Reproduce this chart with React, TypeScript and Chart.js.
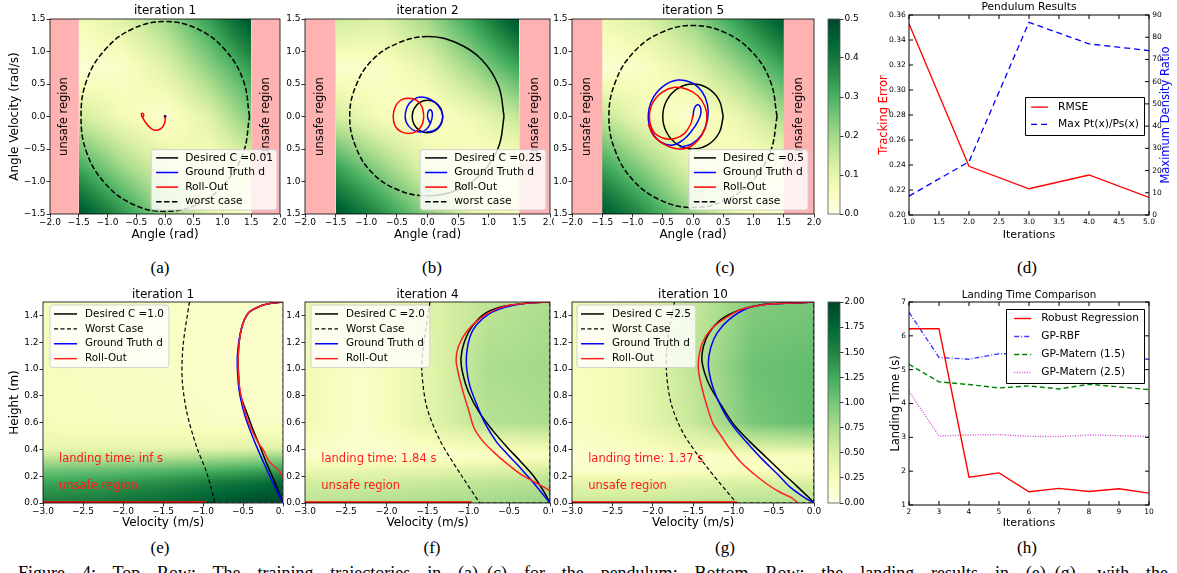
import React, { useEffect, useRef } from 'react';
import { Chart, registerables } from 'chart.js';

Chart.register(...registerables);
const FONT = 'DejaVu Sans';
Chart.defaults.font.family = FONT;
Chart.defaults.color = '#000';

// ---------------- tick labels ----------------
const ANGLE_TICKS = [-2, -1.5, -1, -0.5, 0, 0.5, 1, 1.5, 2];
const ANGVEL_TICKS = [-1.5, -1, -0.5, 0, 0.5, 1, 1.5];
const VEL_TICKS = [-3, -2.5, -2, -1.5, -1, -0.5, 0];
const HEIGHT_TICKS = [0, 0.2, 0.4, 0.6, 0.8, 1, 1.2, 1.4];
const CBAR_TOP_TICKS = [0, 0.1, 0.2, 0.3, 0.4, 0.5];
const CBAR_BOT_TICKS = [0, 0.25, 0.5, 0.75, 1, 1.25, 1.5, 1.75, 2];
const ITER_D_TICKS = [1, 1.5, 2, 2.5, 3, 3.5, 4, 4.5, 5];
const TRACK_TICKS = [0.2, 0.22, 0.24, 0.26, 0.28, 0.3, 0.32, 0.34, 0.36];
const RATIO_TICKS = [0, 10, 20, 30, 40, 50, 60, 70, 80, 90];
const ITER_H_TICKS = [2, 3, 4, 5, 6, 7, 8, 9, 10];
const LAND_TICKS = [1, 2, 3, 4, 5, 6, 7];

// ---------------- (d) Pendulum results ----------------
const ITER_D = [1, 2, 3, 4, 5];
const RMSE = [0.353, 0.239, 0.221, 0.232, 0.214];
const DENSITY_RATIO = [8.5, 24, 86.7, 77, 74];

// ---------------- (h) Landing time comparison ----------------
const ITER_H = [2, 3, 4, 5, 6, 7, 8, 9, 10];
const ROBUST = [6.21, 6.21, 1.82, 1.95, 1.39, 1.49, 1.4, 1.48, 1.35];
const GP_RBF = [6.7, 5.36, 5.31, 5.47, 5.46, 5.42, 5.38, 5.35, 5.31];
const GP_M15 = [5.16, 4.64, 4.56, 4.46, 4.52, 4.43, 4.57, 4.49, 4.41];
const GP_M25 = [4.36, 3.04, 3.07, 3.08, 3.03, 3.02, 3.07, 3.05, 3.02];

// ---------------- top row trajectories (angle, angle velocity) ----------------
const WORST_A = [[1.47, 0], [1.36, 0.56], [1.04, 1.03], [0.56, 1.35], [0, 1.46], [-0.56, 1.35], [-1.04, 1.03], [-1.36, 0.56], [-1.46, 0], [-1.36, -0.56], [-1.04, -1.03], [-0.56, -1.35], [0, -1.46], [0.56, -1.35], [1.04, -1.03], [1.36, -0.56], [1.47, 0]];
const WORST_B = [[1.25, 0], [1.16, 0.47], [0.89, 0.87], [0.48, 1.13], [0, 1.23], [-0.48, 1.13], [-0.9, 0.87], [-1.17, 0.47], [-1.27, 0], [-1.17, -0.47], [-0.9, -0.87], [-0.48, -1.13], [0, -1.22], [0.48, -1.13], [0.89, -0.87], [1.16, -0.47], [1.25, 0]];
const WORST_C = [[1.39, 0], [1.28, 0.54], [0.98, 0.99], [0.53, 1.29], [0, 1.4], [-0.53, 1.29], [-0.98, 0.99], [-1.28, 0.54], [-1.39, 0], [-1.28, -0.54], [-0.98, -0.99], [-0.53, -1.29], [0, -1.4], [0.53, -1.29], [0.98, -0.99], [1.28, -0.54], [1.39, 0]];
const DESIRED_A = [[0.01, 0], [0, 0.01], [-0.01, 0], [0, -0.01], [0.01, 0]];
const DESIRED_B = [[0.25, 0], [0.217, 0.125], [0.125, 0.217], [0, 0.25], [-0.125, 0.217], [-0.217, 0.125], [-0.25, 0], [-0.217, -0.125], [-0.125, -0.217], [0, -0.25], [0.125, -0.217], [0.217, -0.125], [0.25, 0]];
const DESIRED_C = [[0.5, 0], [0.433, 0.25], [0.25, 0.433], [0, 0.5], [-0.25, 0.433], [-0.433, 0.25], [-0.5, 0], [-0.433, -0.25], [-0.25, -0.433], [0, -0.5], [0.25, -0.433], [0.433, -0.25], [0.5, 0]];
const TRUTH_A = [[0, 0], [0.01, 0.01], [0.01, -0.01], [0, 0]];
const TRUTH_B = [[0.04, -0.1], [0, 0], [0.02, 0.09], [0.06, 0.1], [0.08, 0.02], [0.05, -0.1], [-0.02, -0.2], [-0.12, -0.24], [-0.25, -0.2], [-0.35, -0.08], [-0.36, 0.06], [-0.3, 0.2], [-0.17, 0.29], [-0.02, 0.29], [0.12, 0.22], [0.22, 0.1], [0.25, -0.02], [0.2, -0.14], [0.1, -0.22], [-0.02, -0.24]];
const TRUTH_C = [[0, 0], [0.02, 0.12], [0.07, 0.18], [0.12, 0.15], [0.13, 0.05], [0.08, -0.08], [-0.02, -0.22], [-0.15, -0.35], [-0.33, -0.44], [-0.52, -0.4], [-0.67, -0.25], [-0.74, -0.02], [-0.68, 0.25], [-0.5, 0.46], [-0.25, 0.56], [-0.02, 0.52], [0.15, 0.38], [0.24, 0.18], [0.24, -0.05], [0.15, -0.27], [-0.02, -0.42], [-0.22, -0.47]];
const ROLL_A = [[0, 0], [0, -0.08], [-0.04, -0.16], [-0.1, -0.2], [-0.18, -0.21], [-0.26, -0.17], [-0.33, -0.1], [-0.38, -0.03], [-0.41, 0.02], [-0.4, 0.05], [-0.37, 0.03], [-0.38, -0.01]];
const ROLL_B = [[-0.06, 0], [-0.09, 0.15], [-0.18, 0.25], [-0.31, 0.28], [-0.44, 0.25], [-0.53, 0.14], [-0.56, 0], [-0.53, -0.14], [-0.44, -0.23], [-0.31, -0.26], [-0.18, -0.23], [-0.09, -0.13], [-0.06, 0]];
const ROLL_C = [[0, 0.02], [-0.04, -0.12], [-0.14, -0.26], [-0.3, -0.34], [-0.5, -0.33], [-0.66, -0.22], [-0.72, 0], [-0.66, 0.22], [-0.5, 0.38], [-0.3, 0.45], [-0.1, 0.42], [0.08, 0.32], [0.2, 0.15], [0.23, -0.05], [0.15, -0.28], [-0.02, -0.45], [-0.22, -0.5], [-0.45, -0.44], [-0.65, -0.3], [-0.74, -0.12]];
const UNSAFE_BANDS = [[-2, -1.5], [1.5, 2]];
const UNSAFE_LABEL_X = [-1.75, 1.75];

// top heat maps (rows top->bottom)
const HEAT_TOP_X = [-1.5, -0.75, 0, 0.75, 1.5];
const HEAT_TOP_Y = [1.5, 0.75, 0, -0.75, -1.5];
const HEAT_A = [
  [0.07, 0.11, 0.2, 0.33, 0.48],
  [0.02, 0.04, 0.11, 0.22, 0.34],
  [0.14, 0.07, 0.03, 0.11, 0.24],
  [0.31, 0.2, 0.11, 0.05, 0.11],
  [0.48, 0.35, 0.22, 0.11, 0.03],
];
const HEAT_B = [
  [0.14, 0.12, 0.2, 0.33, 0.48],
  [0.03, 0.04, 0.1, 0.21, 0.32],
  [0.13, 0.06, 0.03, 0.08, 0.16],
  [0.32, 0.21, 0.1, 0.04, 0.04],
  [0.48, 0.36, 0.23, 0.1, 0.05],
];
const HEAT_C = [
  [0.08, 0.12, 0.21, 0.34, 0.47],
  [0.02, 0.05, 0.11, 0.21, 0.32],
  [0.16, 0.07, 0.03, 0.09, 0.19],
  [0.32, 0.21, 0.1, 0.04, 0.06],
  [0.47, 0.35, 0.21, 0.08, 0.03],
];

// ---------------- bottom row trajectories (velocity, height) ----------------
const DESIRED_E = [[-0.02, 1.5], [-0.15, 1.49], [-0.28, 1.47], [-0.43, 1.42], [-0.52, 1.3], [-0.56, 1.1], [-0.55, 0.9], [-0.53, 0.8], [-0.45, 0.67], [-0.37, 0.54], [-0.28, 0.41], [-0.2, 0.29], [-0.1, 0.15], [0, 0]];
const TRUTH_E = [[-0.02, 1.5], [-0.15, 1.49], [-0.28, 1.47], [-0.43, 1.42], [-0.52, 1.3], [-0.57, 1.1], [-0.56, 0.9], [-0.53, 0.78], [-0.47, 0.64], [-0.39, 0.51], [-0.3, 0.38], [-0.21, 0.26], [-0.11, 0.13], [0, 0]];
const ROLL_E = [[-0.02, 1.5], [-0.15, 1.49], [-0.28, 1.47], [-0.43, 1.42], [-0.52, 1.3], [-0.56, 1.1], [-0.55, 0.9], [-0.51, 0.76], [-0.45, 0.63], [-0.37, 0.52], [-0.3, 0.44], [-0.25, 0.4], [-0.2, 0.34], [-0.16, 0.3], [-0.1, 0.27], [-0.05, 0.24], [0, 0.19]];
const WORST_E = [[-1.17, 1.5], [-1.25, 1.17], [-1.26, 0.92], [-1.2, 0.67], [-1.08, 0.42], [-0.95, 0.22], [-0.85, 0]];
const EDGE_E = [[-0.85, 0], [0, 0], [0, 1.5]];
const BASE_E = [[-3, 0], [-0.97, 0]];

const DESIRED_F = [[0, 1.5], [-0.3, 1.49], [-0.55, 1.47], [-0.78, 1.42], [-0.95, 1.32], [-1.05, 1.2], [-1.09, 1.08], [-1.07, 0.97], [-1.0, 0.83], [-0.86, 0.67], [-0.7, 0.54], [-0.53, 0.42], [-0.36, 0.31], [-0.2, 0.2], [-0.08, 0.09], [0, 0]];
const TRUTH_F = [[0, 1.5], [-0.3, 1.49], [-0.55, 1.46], [-0.75, 1.41], [-0.9, 1.33], [-0.98, 1.24], [-1.02, 1.12], [-1.02, 1.0], [-0.98, 0.87], [-0.9, 0.74], [-0.8, 0.6], [-0.66, 0.46], [-0.53, 0.37], [-0.36, 0.26], [-0.2, 0.15], [-0.08, 0.06], [0, 0]];
const ROLL_F = [[0, 1.5], [-0.3, 1.49], [-0.6, 1.46], [-0.85, 1.38], [-1.02, 1.28], [-1.12, 1.17], [-1.15, 1.07], [-1.12, 0.96], [-1.06, 0.82], [-0.99, 0.68], [-0.93, 0.56], [-0.82, 0.46], [-0.69, 0.38], [-0.52, 0.29], [-0.37, 0.22], [-0.2, 0.16], [-0.08, 0.12], [0, 0.09]];
const WORST_F = [[-1.47, 1.5], [-1.55, 1.17], [-1.57, 0.99], [-1.51, 0.72], [-1.35, 0.47], [-1.1, 0.22], [-0.86, 0]];
const EDGE_F = [[-0.86, 0], [0, 0], [0, 1.5]];
const BASE_F = [[-3, 0], [-0.96, 0]];

const DESIRED_G = [[0, 1.5], [-0.35, 1.49], [-0.65, 1.48], [-0.92, 1.44], [-1.15, 1.37], [-1.3, 1.27], [-1.37, 1.17], [-1.39, 1.07], [-1.35, 0.96], [-1.28, 0.86], [-1.15, 0.73], [-1.0, 0.59], [-0.8, 0.46], [-0.59, 0.34], [-0.4, 0.23], [-0.22, 0.13], [-0.08, 0.05], [0, 0]];
const TRUTH_G = [[0, 1.5], [-0.35, 1.49], [-0.62, 1.48], [-0.84, 1.45], [-1.05, 1.37], [-1.2, 1.27], [-1.28, 1.16], [-1.31, 1.04], [-1.28, 0.92], [-1.22, 0.81], [-1.1, 0.66], [-0.96, 0.54], [-0.8, 0.43], [-0.63, 0.32], [-0.46, 0.22], [-0.3, 0.12], [-0.14, 0.05], [0, 0]];
const ROLL_G = [[0, 1.5], [-0.35, 1.49], [-0.62, 1.48], [-0.88, 1.45], [-1.1, 1.38], [-1.27, 1.3], [-1.38, 1.2], [-1.43, 1.08], [-1.43, 0.98], [-1.39, 0.86], [-1.33, 0.73], [-1.25, 0.59], [-1.15, 0.5], [-1.05, 0.41], [-0.9, 0.3], [-0.75, 0.22], [-0.58, 0.14], [-0.42, 0.08], [-0.28, 0.04], [-0.2, 0]];
const WORST_G = [[-1.73, 1.5], [-1.81, 1.24], [-1.83, 0.99], [-1.77, 0.74], [-1.62, 0.52], [-1.33, 0.27], [-0.96, 0]];
const EDGE_G = [[-0.96, 0], [0, 0], [0, 1.5]];
const BASE_G = [[-3, 0], [-0.96, 0]];

// bottom heat maps (rows top->bottom)
const HEAT_BOT_X = [-3, -2.3, -1.5, -0.75, 0];
const HEAT_BOT_Y = [1.5, 1.0, 0.6, 0.42, 0.35, 0.25, 0.15, 0];
const HEAT_E = [
  [0.22, 0.2, 0.18, 0.16, 0.15],
  [0.22, 0.2, 0.18, 0.16, 0.15],
  [0.24, 0.22, 0.2, 0.18, 0.17],
  [0.35, 0.35, 0.36, 0.38, 0.4],
  [0.6, 0.62, 0.66, 0.72, 0.8],
  [1.0, 1.05, 1.12, 1.2, 1.3],
  [1.3, 1.35, 1.45, 1.6, 1.75],
  [1.55, 1.6, 1.75, 1.9, 2.0],
];
const HEAT_F = [
  [0.35, 0.25, 0.45, 0.65, 0.75],
  [0.3, 0.15, 0.4, 0.75, 0.8],
  [0.3, 0.15, 0.4, 0.7, 0.75],
  [0.2, 0.12, 0.2, 0.3, 0.35],
  [0.15, 0.1, 0.12, 0.15, 0.18],
  [0.35, 0.35, 0.4, 0.45, 0.5],
  [0.55, 0.55, 0.6, 0.65, 0.7],
  [0.65, 0.7, 0.75, 0.8, 0.85],
];
const HEAT_G = [
  [0.3, 0.35, 0.6, 0.95, 1.0],
  [0.2, 0.3, 0.65, 1.05, 1.1],
  [0.2, 0.3, 0.6, 1.0, 1.1],
  [0.15, 0.2, 0.35, 0.5, 0.55],
  [0.1, 0.12, 0.15, 0.2, 0.22],
  [0.15, 0.15, 0.18, 0.2, 0.22],
  [0.4, 0.4, 0.45, 0.5, 0.5],
  [0.6, 0.6, 0.65, 0.7, 0.7],
];

// ---------------- helpers ----------------
const YLGN = [[255, 255, 229], [247, 252, 185], [217, 240, 163], [173, 221, 142], [120, 198, 121], [65, 171, 93], [35, 132, 67], [0, 104, 55], [0, 69, 41]];
function cmap(t: number) {
  const n = YLGN.length;
  const c = Math.max(0, Math.min(1, t)) * (n - 1);
  const i = Math.min(n - 2, Math.floor(c));
  const u = c - i;
  const a = YLGN[i], b = YLGN[i + 1];
  return [a[0] + (b[0] - a[0]) * u, a[1] + (b[1] - a[1]) * u, a[2] + (b[2] - a[2]) * u];
}
function seg(arr: number[], v: number): [number, number] {
  const n = arr.length;
  for (let k = 0; k < n - 1; k++) {
    const a = arr[k], b = arr[k + 1];
    if (v >= Math.min(a, b) && v <= Math.max(a, b)) return [k, (v - a) / (b - a)];
  }
  const asc = arr[n - 1] > arr[0];
  const before = asc ? v < arr[0] : v > arr[0];
  return before ? [0, 0] : [n - 2, 1];
}
function interp(h: any, x: number, y: number) {
  const [i, u] = seg(h.gx, x);
  const [j, w] = seg(h.gy, y);
  const z = h.z;
  const top = z[j][i] * (1 - u) + z[j][i + 1] * u;
  const bot = z[j + 1][i] * (1 - u) + z[j + 1][i + 1] * u;
  return top * (1 - w) + bot * w;
}
function drawHeat(ctx: any, xs: any, ys: any, h: any) {
  const x0 = Math.round(xs.getPixelForValue(Math.min(...h.gx)));
  const x1 = Math.round(xs.getPixelForValue(Math.max(...h.gx)));
  const y0 = Math.round(ys.getPixelForValue(Math.max(...h.gy)));
  const y1 = Math.round(ys.getPixelForValue(Math.min(...h.gy)));
  const w = x1 - x0, hh = y1 - y0;
  if (w <= 0 || hh <= 0) return;
  const off = document.createElement('canvas');
  off.width = w; off.height = hh;
  const octx = off.getContext('2d')!;
  const img = octx.createImageData(w, hh);
  for (let j = 0; j < hh; j++) {
    const vy = ys.getValueForPixel(y0 + j + 0.5);
    for (let i = 0; i < w; i++) {
      const vx = xs.getValueForPixel(x0 + i + 0.5);
      const c = cmap((interp(h, vx, vy) - h.vmin) / (h.vmax - h.vmin));
      const k = (j * w + i) * 4;
      img.data[k] = c[0]; img.data[k + 1] = c[1]; img.data[k + 2] = c[2]; img.data[k + 3] = 255;
    }
  }
  octx.putImageData(img, 0, 0);
  ctx.drawImage(off, x0, y0);
}
function drawCbar(ctx: any, ca: any, ys: any, c: any) {
  for (let py = Math.floor(ca.top); py < ca.bottom; py++) {
    const v = ys.getValueForPixel(py + 0.5);
    const col = cmap((v - c.vmin) / (c.vmax - c.vmin));
    ctx.fillStyle = `rgb(${col[0]},${col[1]},${col[2]})`;
    ctx.fillRect(ca.left, py, ca.right - ca.left, 1);
  }
}
function drawText(ctx: any, scales: any, t: any) {
  const x = t.px ? t.x : scales.x.getPixelForValue(t.x);
  const y = t.px ? t.y : scales.y.getPixelForValue(t.y);
  ctx.save();
  ctx.translate(x, y);
  if (t.rot) ctx.rotate((t.rot * Math.PI) / 180);
  ctx.font = `${t.size}px ${FONT}`;
  ctx.fillStyle = t.color || '#000';
  ctx.textAlign = t.align || 'center';
  ctx.textBaseline = 'middle';
  ctx.fillText(t.text, 0, 0);
  ctx.restore();
}
function drawLegend(ctx: any, chart: any, L: any) {
  const ca = chart.chartArea;
  const items = chart.data.datasets.filter((d: any) => d.label && d.label[0] !== '_');
  ctx.font = `${L.size}px ${FONT}`;
  const tw = Math.max(...items.map((d: any) => ctx.measureText(d.label).width));
  const w = L.padL + L.sample + L.gap + tw + L.padR;
  const h = items.length * L.row + L.padT + L.padB;
  const x = L.ax === 'left' ? ca.left + L.dx : ca.right - L.dx - w;
  const y = L.ay === 'top' ? ca.top + L.dy : ca.bottom - L.dy - h;
  ctx.beginPath();
  if (L.classic) ctx.rect(Math.round(x) + 0.5, Math.round(y) + 0.5, Math.round(w), Math.round(h));
  else ctx.roundRect(x, y, w, h, 3);
  ctx.fillStyle = L.classic ? '#fff' : 'rgba(255,255,255,0.8)';
  ctx.fill();
  ctx.lineWidth = 1;
  ctx.strokeStyle = L.classic ? '#000' : 'rgba(204,204,204,0.9)';
  ctx.stroke();
  items.forEach((d: any, k: number) => {
    const cy = y + L.padT + L.row * (k + 0.5);
    ctx.beginPath();
    ctx.setLineDash(d.borderDash || []);
    ctx.strokeStyle = d.borderColor;
    ctx.lineWidth = d.borderWidth;
    ctx.moveTo(x + L.padL, cy);
    ctx.lineTo(x + L.padL + L.sample, cy);
    ctx.stroke();
    ctx.setLineDash([]);
    ctx.fillStyle = '#000';
    ctx.textBaseline = 'middle';
    ctx.textAlign = 'left';
    ctx.fillText(d.label, x + L.padL + L.sample + L.gap, cy);
  });
}
function drawInnerTicks(ctx: any, chart: any) {
  const ca = chart.chartArea;
  const { x, y, y2 } = chart.scales;
  ctx.strokeStyle = '#000';
  ctx.lineWidth = 1;
  const line = (a: number, b: number, c: number, d: number) => { ctx.beginPath(); ctx.moveTo(a, b); ctx.lineTo(c, d); ctx.stroke(); };
  x.ticks.forEach((t: any) => { const p = x.getPixelForValue(t.value); line(p, ca.bottom, p, ca.bottom - 4); line(p, ca.top, p, ca.top + 4); });
  y.ticks.forEach((t: any) => { const p = y.getPixelForValue(t.value); line(ca.left, p, ca.left + 4, p); if (!y2) line(ca.right, p, ca.right - 4, p); });
  if (y2) y2.ticks.forEach((t: any) => { const p = y2.getPixelForValue(t.value); line(ca.right, p, ca.right - 4, p); });
}
function makeDeco(o: any) {
  return {
    id: 'deco',
    beforeDatasetsDraw(chart: any) {
      const { ctx, chartArea: ca, scales } = chart;
      ctx.save();
      if (o.heat) drawHeat(ctx, scales.x, scales.y, o.heat);
      if (o.cbar) drawCbar(ctx, ca, scales.y, o.cbar);
      (o.bands || []).forEach((b: number[]) => {
        const x0 = scales.x.getPixelForValue(b[0]);
        const x1 = scales.x.getPixelForValue(b[1]);
        ctx.fillStyle = 'rgb(255,178,178)';
        ctx.fillRect(x0, ca.top, x1 - x0, ca.bottom - ca.top);
      });
      (o.texts || []).forEach((t: any) => drawText(ctx, scales, t));
      ctx.restore();
    },
    afterDatasetsDraw(chart: any) {
      const { ctx, chartArea: ca, scales } = chart;
      ctx.save();
      if (o.innerTicks) drawInnerTicks(ctx, chart);
      ctx.strokeStyle = o.frameColor || '#000';
      ctx.lineWidth = o.frameWidth || 0.8;
      ctx.strokeRect(ca.left, ca.top, ca.right - ca.left, ca.bottom - ca.top);
      if (o.legend) drawLegend(ctx, chart, o.legend);
      if (o.title) {
        ctx.font = `${o.title.size}px ${FONT}`;
        ctx.fillStyle = '#000';
        ctx.textAlign = 'center';
        ctx.textBaseline = 'middle';
        ctx.fillText(o.title.text, (ca.left + ca.right) / 2, ca.top - o.title.dy);
      }
      (o.pxTexts || []).forEach((t: any) => drawText(ctx, scales, { ...t, px: true }));
      ctx.restore();
    },
  };
}

const fmt = (d: number) => (v: number) => (v < 0 ? '\u2212' : '') + Math.abs(v).toFixed(d);

function axis(a: any, position: string, fit: (s: any) => void) {
  return {
    type: 'linear',
    position,
    min: a.min,
    max: a.max,
    afterBuildTicks: (s: any) => { s.ticks = a.ticks.map((v: number) => ({ value: v })); },
    afterFit: fit,
    ticks: {
      callback: (v: any) => a.fmt(Number(v)),
      font: { family: FONT, size: a.tickSize, lineHeight: 1 },
      color: '#000',
      padding: a.tickPad,
      maxRotation: 0,
      minRotation: 0,
      autoSkip: false,
    },
    grid: a.outside
      ? { display: true, drawOnChartArea: false, drawTicks: true, tickLength: 3.5, lineWidth: 0.8, color: '#000' }
      : { display: false, drawTicks: false },
    border: { display: false },
    title: a.title
      ? {
          display: true,
          text: a.title,
          color: a.titleColor || '#000',
          font: { family: FONT, size: a.titleSize },
          padding: position === 'bottom' ? { top: 0, bottom: a.titlePad } : { top: a.titlePad, bottom: 0 },
        }
      : { display: false },
  };
}

function makeConfig(cv: number[], area: number[], xa: any, ya: any, datasets: any[], deco: any, y2?: any) {
  const [cl, ct, cw, ch] = cv;
  const [L, T, R, B] = area;
  const scales: any = {
    x: axis(xa, 'bottom', (s: any) => { s.height = ct + ch - B; }),
    y: axis(ya, 'left', (s: any) => { s.width = L - cl; }),
  };
  if (y2) scales.y2 = axis(y2, 'right', (s: any) => { s.width = cl + cw - R; });
  return {
    type: 'line',
    data: { datasets },
    options: {
      animation: false,
      responsive: false,
      events: [],
      layout: { padding: { left: 0, top: T - ct, right: y2 ? 0 : cl + cw - R, bottom: 0 } },
      plugins: { legend: { display: false }, tooltip: { enabled: false }, title: { display: false } },
      elements: { point: { radius: 0 } },
      scales,
    },
    plugins: [makeDeco(deco)],
  };
}

function cbarConfig(cv: number[], area: number[], ticks: number[], f: any, vmin: number, vmax: number) {
  const [cl, ct, cw, ch] = cv;
  const [L, T, R, B] = area;
  return {
    type: 'line',
    data: { datasets: [] },
    options: {
      animation: false,
      responsive: false,
      events: [],
      layout: { padding: { left: L - cl, top: T - ct, right: 0, bottom: ct + ch - B } },
      plugins: { legend: { display: false }, tooltip: { enabled: false } },
      scales: {
        x: { type: 'linear', display: false, min: 0, max: 1 },
        y: axis({ min: vmin, max: vmax, ticks, fmt: f, tickSize: 9, tickPad: 1, outside: true }, 'right', (s: any) => { s.width = cl + cw - R; }),
      },
    },
    plugins: [makeDeco({ cbar: { vmin, vmax }, frameColor: '#555', frameWidth: 0.8 })],
  };
}

const P = (arr: number[][]) => arr.map(([x, y]) => ({ x, y }));
const DASH = [5.5, 2.4];

function lineDs(label: string, data: number[][], color: string, order: number, extra: any = {}) {
  return { label, data: P(data), borderColor: color, borderWidth: 1.5, tension: 0.4, pointRadius: 0, fill: false, order, ...extra };
}

// ---------------- axis specs ----------------
const TOP_X = { min: -2, max: 2, ticks: ANGLE_TICKS, fmt: fmt(1), title: 'Angle (rad)', titleSize: 12, titlePad: 3.3, tickSize: 9, tickPad: 1, outside: true };
const TOP_Y = (withTitle: boolean) => ({ min: -1.5, max: 1.5, ticks: ANGVEL_TICKS, fmt: fmt(1), title: withTitle ? 'Angle Velocity (rad/s)' : undefined, titleSize: 12, titlePad: 7.8, tickSize: 9, tickPad: 1, outside: true });
const BOT_X = { min: -3, max: 0, ticks: VEL_TICKS, fmt: fmt(1), title: 'Velocity (m/s)', titleSize: 12, titlePad: 4.5, tickSize: 9, tickPad: 1, outside: true };
const BOT_Y = (withTitle: boolean) => ({ min: 0, max: 1.5, ticks: HEIGHT_TICKS, fmt: fmt(1), title: withTitle ? 'Height (m)' : undefined, titleSize: 12, titlePad: 7.8, tickSize: 9, tickPad: 1, outside: true });

function topPanel(cv: number[], area: number[], iter: string, c: string, desired: number[][], truth: number[][], roll: number[][], worst: number[][], heat: number[][], solidRight: boolean, legendDx: number, withYTitle: boolean) {
  const datasets = [
    lineDs(`Desired C =${c}`, desired, '#000000', 2),
    lineDs('Ground Truth d', truth, '#0000ff', 1),
    lineDs('Roll-Out', roll, '#ff0000', 0),
    lineDs('worst case', worst, '#000000', 3, {
      borderDash: DASH,
      segment: solidRight ? { borderDash: (s: any) => ((s.p0.parsed.x + s.p1.parsed.x) / 2 < 0 ? DASH : []) } : undefined,
    }),
  ];
  const deco = {
    heat: { gx: HEAT_TOP_X, gy: HEAT_TOP_Y, z: heat, vmin: 0, vmax: 0.5 },
    bands: UNSAFE_BANDS,
    texts: UNSAFE_LABEL_X.map((x) => ({ text: 'unsafe region', x, y: 0, size: 11.5, rot: -90 })),
    title: { text: `iteration ${iter}`, dy: 8.5, size: 12 },
    legend: { ax: 'right', dx: legendDx, ay: 'bottom', dy: 4, size: 10.7, row: 14.6, sample: 22, gap: 7, padL: 5, padR: 4, padT: 1, padB: 1 },
  };
  return makeConfig(cv, area, TOP_X, TOP_Y(withYTitle), datasets, deco);
}

function botPanel(cv: number[], area: number[], iter: string, c: string, desired: number[][], worst: number[][], truth: number[][], roll: number[][], edge: number[][], base: number[][], heat: number[][], landing: string, legendDx: number, withYTitle: boolean, edgeColor: string) {
  const datasets = [
    lineDs(`Desired C =${c}`, desired, '#000000', 2, { tension: 0.3 }),
    lineDs('Worst Case', worst, '#000000', 3, { borderDash: [4, 2.5], borderWidth: 1.2, tension: 0.3 }),
    lineDs('Ground Truth d', truth, '#0000ff', 1, { tension: 0.3 }),
    lineDs('Roll-Out', roll, '#ff2020', 0, { tension: 0.3 }),
    lineDs('_edge', edge, edgeColor, 4, { borderDash: [4, 2.5], borderWidth: 1.2, tension: 0 }),
    lineDs('_base', base, '#ff0000', 0, { borderWidth: 3.5, tension: 0 }),
  ];
  const deco = {
    heat: { gx: HEAT_BOT_X, gy: HEAT_BOT_Y, z: heat, vmin: 0, vmax: 2 },
    texts: [
      { text: landing, x: -2.8, y: 0.33, size: 11.5, color: '#ff1a1a', align: 'left' },
      { text: 'unsafe region', x: -2.8, y: 0.13, size: 11.5, color: '#ff1a1a', align: 'left' },
    ],
    title: { text: `iteration ${iter}`, dy: 7.5, size: 12 },
    legend: { ax: 'left', dx: legendDx, ay: 'top', dy: 3, size: 10.4, row: 14.9, sample: 23, gap: 8, padL: 4, padR: 5, padT: 1.5, padB: 1.5 },
  };
  return makeConfig(cv, area, BOT_X, BOT_Y(withYTitle), datasets, deco);
}

function pendulumPanel(cv: number[], area: number[]) {
  const datasets = [
    { label: 'RMSE', data: ITER_D.map((x, i) => ({ x, y: RMSE[i] })), borderColor: '#ff0000', borderWidth: 1.3, pointRadius: 0, tension: 0, yAxisID: 'y', order: 0 },
    { label: 'Max Pt(x)/Ps(x)', data: ITER_D.map((x, i) => ({ x, y: DENSITY_RATIO[i] })), borderColor: '#0000ff', borderWidth: 1.3, borderDash: [6, 4], pointRadius: 0, tension: 0, yAxisID: 'y2', order: 1 },
  ];
  const xa = { min: 1, max: 5, ticks: ITER_D_TICKS, fmt: fmt(1), title: 'Iterations', titleSize: 11, titlePad: 3.4, tickSize: 7.5, tickPad: 3.3, outside: false };
  const ya = { min: 0.2, max: 0.36, ticks: TRACK_TICKS, fmt: fmt(2), title: 'Tracking Error', titleColor: '#ff0000', titleSize: 11.5, titlePad: 11, tickSize: 7.5, tickPad: 3.3, outside: false };
  const y2 = { min: 0, max: 90, ticks: RATIO_TICKS, fmt: fmt(0), tickSize: 7.5, tickPad: 3.3, outside: false };
  const deco = {
    innerTicks: true,
    frameWidth: 1,
    title: { text: 'Pendulum Results', dy: 8, size: 10.7 },
    legend: { ax: 'right', dx: 5, ay: 'top', dy: 82, size: 10.7, row: 17.3, sample: 17, gap: 10, padL: 6, padR: 5, padT: 1.5, padB: 2, classic: true },
    pxTexts: [{ text: 'Maximum Density Ratio', x: 1166 - cv[0], y: (area[1] + area[3]) / 2 - cv[1], size: 11.5, rot: -90, color: '#0000ff' }],
  };
  return makeConfig(cv, area, xa, ya, datasets, deco, y2);
}

function landingPanel(cv: number[], area: number[]) {
  const mk = (label: string, vals: number[], color: string, dash: number[], order: number) => ({
    label, data: ITER_H.map((x, i) => ({ x, y: vals[i] })), borderColor: color, borderWidth: 1.4, borderDash: dash, pointRadius: 0, tension: 0, order,
  });
  const datasets = [
    mk('Robust Regression', ROBUST, '#ff0000', [], 0),
    mk('GP-RBF', GP_RBF, 'rgba(0,0,255,0.75)', [5, 2, 1, 2], 1),
    mk('GP-Matern (1.5)', GP_M15, '#008000', [5, 3], 2),
    mk('GP-Matern (2.5)', GP_M25, 'rgba(191,0,191,0.7)', [1, 1.5], 3),
  ];
  const xa = { min: 2, max: 10, ticks: ITER_H_TICKS, fmt: fmt(0), title: 'Iterations', titleSize: 11, titlePad: 5, tickSize: 7.5, tickPad: 3.3, outside: false };
  const ya = { min: 1, max: 7, ticks: LAND_TICKS, fmt: fmt(0), title: 'Landing Time (s)', titleSize: 11.5, titlePad: 23, tickSize: 7.5, tickPad: 3, outside: false };
  const deco = {
    innerTicks: true,
    frameWidth: 1,
    title: { text: 'Landing Time Comparison', dy: 6.5, size: 10.3 },
    legend: { ax: 'right', dx: 5, ay: 'top', dy: 7, size: 10.6, row: 18, sample: 17, gap: 10, padL: 8, padR: 5, padT: 0.5, padB: 1.5, classic: true },
  };
  return makeConfig(cv, area, xa, ya, datasets, deco);
}

// ---------------- layout ----------------
const PANELS = [
  { id: 'a', box: [0, 0, 286, 250], cv: [0, 0, 300, 245], make: () => topPanel([0, 0, 300, 245], [50, 19, 280, 214], '1', '0.01', DESIRED_A, TRUTH_A, ROLL_A, WORST_A, HEAT_A, false, 3, true) },
  { id: 'b', box: [286, 0, 268, 250], cv: [262, 0, 300, 245], make: () => topPanel([262, 0, 300, 245], [305, 19, 550, 214], '2', '0.25', DESIRED_B, TRUTH_B, ROLL_B, WORST_B, HEAT_B, true, 4, false) },
  { id: 'c', box: [554, 0, 270, 250], cv: [530, 0, 300, 245], make: () => topPanel([530, 0, 300, 245], [572, 19, 814, 214], '5', '0.5', DESIRED_C, TRUTH_C, ROLL_C, WORST_C, HEAT_C, false, 6, false) },
  { id: 'cb1', box: [823, 0, 47, 250], cv: [820, 0, 50, 245], make: () => cbarConfig([820, 0, 50, 245], [828, 19, 840, 214], CBAR_TOP_TICKS, fmt(1), 0, 0.5) },
  { id: 'd', box: [870, 0, 307, 250], cv: [866, 0, 311, 245], make: () => pendulumPanel([866, 0, 311, 245], [909, 15, 1149, 215]) },
  { id: 'e', box: [0, 280, 285, 255], cv: [0, 280, 300, 255], make: () => botPanel([0, 280, 300, 255], [43, 302, 283, 503], '1', '1.0', DESIRED_E, WORST_E, TRUTH_E, ROLL_E, EDGE_E, BASE_E, HEAT_E, 'landing time: inf s', 7, true, '#999') },
  { id: 'f', box: [285, 280, 268, 255], cv: [262, 280, 300, 255], make: () => botPanel([262, 280, 300, 255], [305, 302, 550, 503], '4', '2.0', DESIRED_F, WORST_F, TRUTH_F, ROLL_F, EDGE_F, BASE_F, HEAT_F, 'landing time: 1.84 s', 6, false, '#000') },
  { id: 'g', box: [553, 280, 270, 255], cv: [530, 280, 300, 255], make: () => botPanel([530, 280, 300, 255], [572, 302, 814, 503], '10', '2.5', DESIRED_G, WORST_G, TRUTH_G, ROLL_G, EDGE_G, BASE_G, HEAT_G, 'landing time: 1.37 s', 5, false, '#000') },
  { id: 'cb2', box: [823, 280, 47, 255], cv: [820, 280, 50, 255], make: () => cbarConfig([820, 280, 50, 255], [828, 302, 840, 503], CBAR_BOT_TICKS, fmt(2), 0, 2) },
  { id: 'h', box: [870, 280, 307, 255], cv: [866, 280, 311, 255], make: () => landingPanel([866, 280, 311, 255], [909, 302, 1149, 505]) },
];

const CAPTION_LABELS = ['(a)', '(b)', '(c)', '(d)', '(e)', '(f)', '(g)', '(h)'];
const CAPTION_X = [160, 432, 725, 1027, 160, 432, 725, 1027];
const CAPTION_Y = [268, 268, 268, 268, 548, 548, 548, 548];
const FIGURE_CAPTION = 'Figure 4: Top Row: The training trajectories in (a)–(c) for the pendulum; Bottom Row: the landing results in (e)–(g), with the';

function Panel({ box, cv, make }: any) {
  const ref = useRef<HTMLCanvasElement>(null);
  useEffect(() => {
    const chart = new Chart(ref.current as any, make() as any);
    return () => chart.destroy();
  }, []);
  return (
    <div style={{ position: 'absolute', left: box[0], top: box[1], width: box[2], height: box[3], overflow: 'hidden', background: '#fff' }}>
      <canvas ref={ref} width={cv[2]} height={cv[3]} style={{ position: 'absolute', left: cv[0] - box[0], top: cv[1] - box[1], width: cv[2], height: cv[3] }} />
    </div>
  );
}

export default function App() {
  return (
    <div style={{ position: 'absolute', left: 0, top: 0, width: 1177, height: 573, background: '#fff', overflow: 'hidden' }}>
      {PANELS.map((p) => (
        <Panel key={p.id} box={p.box} cv={p.cv} make={p.make} />
      ))}
      {CAPTION_LABELS.map((t, i) => (
        <div key={t} style={{ position: 'absolute', left: CAPTION_X[i] - 30, top: CAPTION_Y[i] - 10, width: 60, textAlign: 'center', fontFamily: '"Liberation Serif", serif', fontSize: 17, lineHeight: '20px', color: '#000' }}>
          {t}
        </div>
      ))}
      <div style={{ position: 'absolute', left: 18, top: 562, width: 1150, whiteSpace: 'nowrap', fontFamily: '"Liberation Serif", serif', fontSize: 18, lineHeight: '22px', textAlign: 'justify', textAlignLast: 'justify' as any, color: '#000' }}>
        {FIGURE_CAPTION}
      </div>
    </div>
  );
}
